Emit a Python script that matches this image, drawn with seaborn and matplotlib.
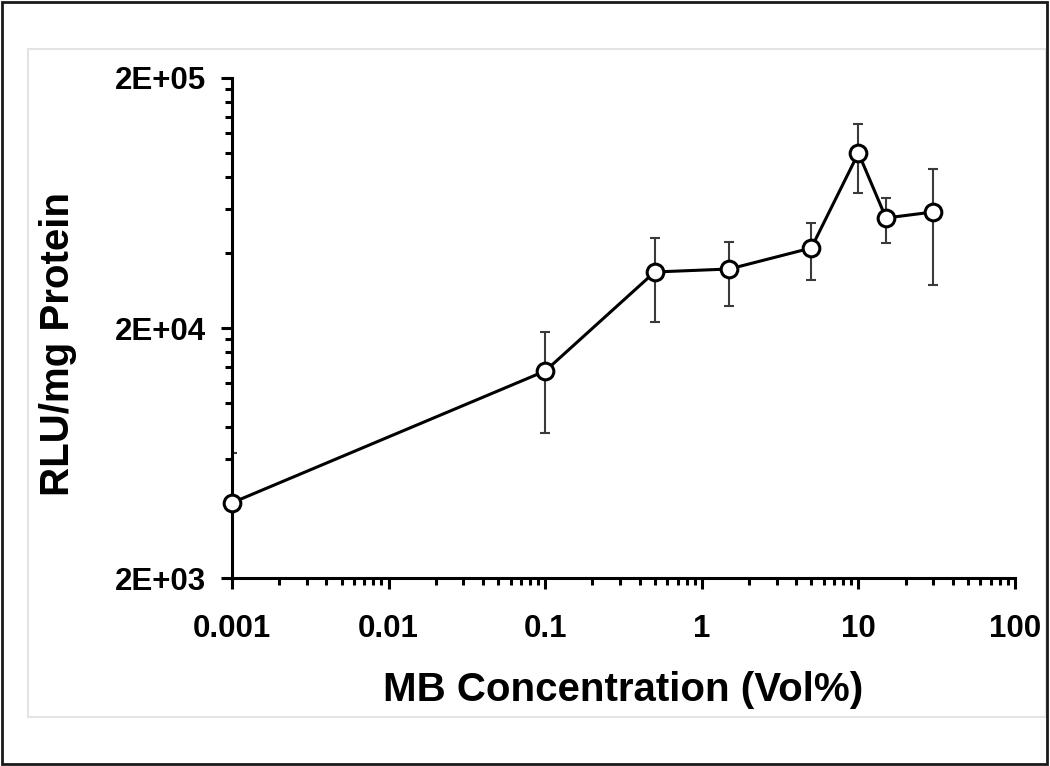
import matplotlib
matplotlib.use("Agg")
import matplotlib.pyplot as plt
from matplotlib.patches import Rectangle
import seaborn as sns
import pandas as pd
import numpy as np

# values
conc = [0.001, 0.1, 0.5, 1.5, 5, 10, 15, 30]
rlu = [4000, 13460, 33500, 34440, 41790, 100240, 55090, 58220]
rlu_sd = [2325, 5830, 12350, 9850, 10600, 30800, 11300, 28500]

x_ticks = [0.001, 0.01, 0.1, 1, 10, 100]
x_tick_labels = ['0.001', '0.01', '0.1', '1', '10', '100']
y_ticks = [2000, 20000, 200000]
y_tick_labels = ['2E+03', '2E+04', '2E+05']

df = pd.DataFrame({'conc': conc, 'rlu': rlu, 'sd': rlu_sd})

sns.set_style('ticks')
plt.rcParams['font.family'] = ['Liberation Sans', 'DejaVu Sans']
plt.rcParams['font.weight'] = 'bold'
plt.rcParams['text.color'] = 'black'
plt.rcParams['axes.labelcolor'] = 'black'

fig = plt.figure(figsize=(10.5, 7.66), dpi=100)
ax = fig.add_axes([0.221, 0.2454, 0.7457, 0.6528])

# error bars behind the line (clipped at the axes like the original)
ax.errorbar(df['conc'], df['rlu'], yerr=df['sd'], fmt='none', ecolor='#3a3a3a',
            elinewidth=1.5, capsize=3.3, capthick=1.5, zorder=2)
n_before = len(ax.lines)

sns.lineplot(data=df, x='conc', y='rlu', ax=ax, color='black', linewidth=2.2,
             marker='o', markersize=12, markerfacecolor='white',
             markeredgecolor='black', markeredgewidth=2.2, zorder=3,
             estimator=None, sort=False)
for ln in ax.lines[n_before:]:
    ln.set_clip_on(False)

ax.set_xscale('log')
ax.set_yscale('log')
ax.set_xlim(0.001, 100)
ax.set_ylim(2000, 200000)

ax.set_xticks(x_ticks, labels=x_tick_labels)
ax.set_xticks([d * k for d in x_ticks[:-1] for k in range(2, 10)], minor=True)
ax.set_yticks(y_ticks, labels=y_tick_labels)
ax.set_yticks([d * k for d in y_ticks[:-1] for k in range(2, 10)], minor=True)
ax.xaxis.set_minor_formatter(matplotlib.ticker.NullFormatter())
ax.yaxis.set_minor_formatter(matplotlib.ticker.NullFormatter())

ax.tick_params(axis='both', which='major', length=8, width=2.2, colors='black',
               labelsize=22.5)
ax.tick_params(axis='both', which='minor', length=5, width=2.2, colors='black')
ax.tick_params(axis='x', which='major', pad=18)
ax.tick_params(axis='y', which='major', pad=11)
for lab in ax.get_xticklabels() + ax.get_yticklabels():
    lab.set_fontweight('bold')

sns.despine(ax=ax)
for side in ['left', 'bottom']:
    ax.spines[side].set_linewidth(2.2)
    ax.spines[side].set_color('black')

ax.set_xlabel('MB Concentration (Vol%)', fontsize=29, fontweight='bold',
              color='black', labelpad=19)
ax.set_ylabel('RLU/mg Protein', fontsize=29, fontweight='bold', color='black')
ax.yaxis.set_label_coords(-0.198, 0.468)

# outer black frame and inner light gray frame
fig.add_artist(Rectangle((28 / 1050, 1 - 717 / 766), (1046 - 28) / 1050, (717 - 49) / 766,
                         transform=fig.transFigure, fill=False, edgecolor='#e4e4e4',
                         linewidth=1.5))
fig.add_artist(Rectangle((1.5 / 1050, 1 - 764 / 766), (1046.5 - 1.5) / 1050, (764 - 1.5) / 766,
                         transform=fig.transFigure, fill=False, edgecolor='#1a1a1a',
                         linewidth=2))

fig.savefig('out.png', dpi=100)
